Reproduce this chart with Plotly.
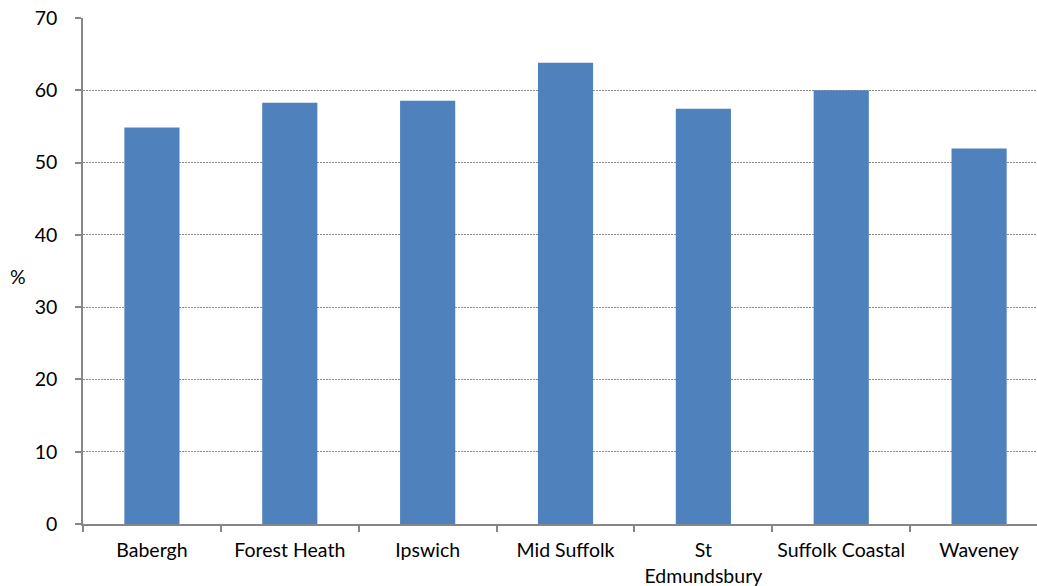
import plotly.graph_objects as go

districts = ["Babergh", "Forest Heath", "Ipswich", "Mid Suffolk",
             "St<br>Edmundsbury", "Suffolk Coastal", "Waveney"]
percent = [54.85, 58.27, 58.55, 63.82, 57.44, 60.02, 51.94]
y_ticks = [0, 10, 20, 30, 40, 50, 60, 70]

FONT = "Lato"
FONT_SIZE = 19.5
AXIS_GREY = "#868686"

fig = go.Figure(
    go.Bar(
        x=districts,
        y=percent,
        marker=dict(color="#4F81BD", line=dict(width=0)),
        width=0.4,
    )
)

fig.update_layout(
    width=1037,
    height=586,
    margin=dict(l=83, r=0, t=18, b=62, pad=0),
    plot_bgcolor="white",
    paper_bgcolor="white",
    showlegend=False,
    font=dict(family=FONT, size=FONT_SIZE, color="#000000"),
)

fig.update_xaxes(
    type="category",
    range=[-0.5, 6.42],
    showgrid=False,
    showline=True,
    linecolor=AXIS_GREY,
    linewidth=1.5,
    ticks="outside",
    tickson="boundaries",
    ticklen=6,
    tickcolor=AXIS_GREY,
    tickwidth=1.5,
    ticklabelstandoff=8,
    tickfont=dict(family=FONT, size=FONT_SIZE, color="#000000"),
)

fig.update_yaxes(
    range=[0, 70],
    tickvals=y_ticks,
    showgrid=True,
    gridcolor="#8a8a8a",
    gridwidth=1,
    griddash="2px,1px",
    showline=True,
    linecolor=AXIS_GREY,
    linewidth=1.5,
    ticks="outside",
    ticklen=6,
    tickcolor=AXIS_GREY,
    tickwidth=1.5,
    ticklabelstandoff=14,
    zeroline=False,
    tickfont=dict(family=FONT, size=FONT_SIZE, color="#000000"),
)

fig.add_annotation(
    text="%",
    xref="paper", yref="paper",
    x=(18 - 83) / 954, y=0.49,
    xanchor="center", yanchor="middle",
    showarrow=False,
    font=dict(family=FONT, size=FONT_SIZE, color="#000000"),
)

fig.write_html("out.html")
